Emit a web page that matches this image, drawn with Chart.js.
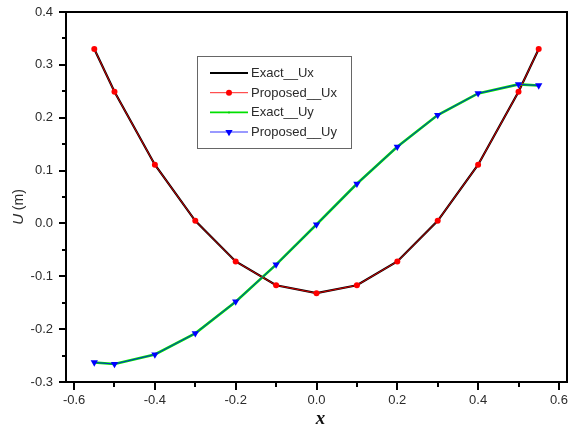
<!DOCTYPE html>
<html>
<head>
<meta charset="utf-8">
<script src="https://cdn.jsdelivr.net/npm/chart.js@4/dist/chart.umd.min.js"></script>
<style>
  html, body { margin: 0; padding: 0; background: #fff; }
  #wrap { width: 581px; height: 432px; position: relative; }
</style>
</head>
<body>
<div id="wrap"><canvas id="c" width="581" height="432"></canvas></div>
<script>
// ---- data ----
const xValues     = [-0.55, -0.5, -0.4, -0.3, -0.2, -0.1, 0.0, 0.1, 0.2, 0.3, 0.4, 0.5, 0.55];
const uxExact     = [0.330, 0.249, 0.111, 0.005, -0.072, -0.117, -0.132, -0.117, -0.072, 0.005, 0.111, 0.249, 0.330];
const uxProposed  = [0.330, 0.249, 0.111, 0.005, -0.072, -0.117, -0.132, -0.117, -0.072, 0.005, 0.111, 0.249, 0.330];
const uyExact     = [-0.263, -0.266, -0.248, -0.208, -0.148, -0.078, -0.002, 0.075, 0.145, 0.205, 0.246, 0.263, 0.261];
const uyProposed  = [-0.263, -0.266, -0.248, -0.208, -0.148, -0.078, -0.002, 0.075, 0.145, 0.205, 0.246, 0.263, 0.261];
const seriesNames = ['Exact__Ux', 'Proposed__Ux', 'Exact__Uy', 'Proposed__Uy'];
const xTickValues = [-0.6, -0.5, -0.4, -0.3, -0.2, -0.1, 0.0, 0.1, 0.2, 0.3, 0.4, 0.5, 0.6];
const yTickValues = [-0.3, -0.25, -0.2, -0.15, -0.1, -0.05, 0.0, 0.05, 0.1, 0.15, 0.2, 0.25, 0.3, 0.35, 0.4];
const xAxisTitle = 'x';
const yAxisTitleVar = 'U';
const yAxisTitleUnit = ' (m)';

const pts = (ys) => xValues.map((x, i) => ({ x: x, y: ys[i] }));
const TXT = '#2b2b2b';
const FONT = '"Liberation Sans", Arial, sans-serif';

const datasets = [
  { label: seriesNames[0], data: pts(uxExact), borderColor: '#000000', backgroundColor: '#000000',
    borderWidth: 2.2, pointRadius: 0, order: 3 },
  { label: seriesNames[1], data: pts(uxProposed), borderColor: 'rgba(255,0,0,0.85)', backgroundColor: '#ff0000',
    borderWidth: 1, pointRadius: 3, pointStyle: 'circle', pointBorderWidth: 0, order: 1 },
  { label: seriesNames[2], data: pts(uyExact), borderColor: '#00e000', backgroundColor: '#00cc00',
    borderWidth: 2.6, pointRadius: 1, pointBorderWidth: 0, order: 2 },
  { label: seriesNames[3], data: pts(uyProposed), borderColor: 'rgba(0,0,255,0.8)', backgroundColor: '#0000ff',
    borderWidth: 1, pointRadius: 4.2, pointStyle: 'triangle', rotation: 180, pointBorderWidth: 0, order: 0 }
];

const overlay = {
  id: 'overlay',
  afterDraw(chart) {
    const ctx = chart.ctx, a = chart.chartArea, xs = chart.scales.x, ys = chart.scales.y;
    ctx.save();
    // frame
    ctx.strokeStyle = '#000';
    ctx.lineWidth = 2;
    ctx.strokeRect(a.left, a.top, a.right - a.left, a.bottom - a.top);
    // x tick marks
    xTickValues.forEach((v, i) => {
      const px = Math.round(xs.getPixelForValue(v));
      const major = i % 2 === 0;
      ctx.beginPath();
      ctx.moveTo(px, a.bottom);
      ctx.lineTo(px, a.bottom + (major ? 8 : 5));
      ctx.stroke();
    });
    // y tick marks
    yTickValues.forEach((v, i) => {
      const py = Math.round(ys.getPixelForValue(v));
      const major = i % 2 === 0;
      ctx.beginPath();
      ctx.moveTo(a.left, py);
      ctx.lineTo(a.left - (major ? 7 : 4), py);
      ctx.stroke();
    });
    // axis titles
    ctx.fillStyle = '#111';
    ctx.textAlign = 'center';
    ctx.textBaseline = 'middle';
    ctx.font = 'bold italic 19px "Liberation Serif", "Times New Roman", serif';
    ctx.fillText(xAxisTitle, (a.left + a.right) / 2 + 4, 419);

    ctx.save();
    ctx.translate(19, 207);
    ctx.rotate(-Math.PI / 2);
    ctx.font = 'italic 15px ' + FONT;
    const wU = ctx.measureText(yAxisTitleVar).width;
    ctx.font = '14px ' + FONT;
    const wR = ctx.measureText(yAxisTitleUnit).width;
    const x0 = -(wU + wR) / 2;
    ctx.textAlign = 'left';
    ctx.fillStyle = TXT;
    ctx.font = 'italic 15px ' + FONT;
    ctx.fillText(yAxisTitleVar, x0, 0);
    ctx.font = '14px ' + FONT;
    ctx.fillText(yAxisTitleUnit, x0 + wU, 0);
    ctx.restore();

    // legend
    const L = { x: 197.5, y: 56.5, w: 154, h: 92 };
    ctx.fillStyle = '#fff';
    ctx.fillRect(L.x, L.y, L.w, L.h);
    ctx.strokeStyle = '#666';
    ctx.lineWidth = 1;
    ctx.strokeRect(L.x, L.y, L.w, L.h);
    const rowY = [73, 92.7, 112.4, 132];
    const legendWidths = [2, 1, 1.6, 1];
    chart.data.datasets.forEach((ds, i) => {
      const y = rowY[i];
      ctx.strokeStyle = ds.borderColor;
      ctx.lineWidth = legendWidths[i];
      ctx.beginPath();
      ctx.moveTo(210, y);
      ctx.lineTo(248, y);
      ctx.stroke();
      if (ds.pointRadius > 0) {
        ctx.fillStyle = ds.backgroundColor;
        ctx.strokeStyle = ds.backgroundColor;
        Chart.helpers.drawPoint(ctx, {
          pointStyle: ds.pointStyle || 'circle', radius: ds.pointRadius,
          rotation: ds.rotation || 0, borderWidth: 0
        }, 229, y);
      }
      ctx.fillStyle = TXT;
      ctx.font = '13px ' + FONT;
      ctx.textAlign = 'left';
      ctx.textBaseline = 'middle';
      ctx.fillText(ds.label, 251, y + 0.5);
    });
    ctx.restore();
  }
};

new Chart(document.getElementById('c'), {
  type: 'line',
  data: { datasets: datasets },
  options: {
    responsive: false,
    animation: false,
    layout: { padding: { top: 12, right: 14, left: 0, bottom: 0 } },
    plugins: { legend: { display: false }, tooltip: { enabled: false } },
    scales: {
      x: {
        type: 'linear', min: -0.62, max: 0.62,
        afterBuildTicks: (s) => { s.ticks = xTickValues.map(v => ({ value: v })); },
        afterFit: (s) => { s.height = 50; s.paddingLeft = 0; s.paddingRight = 0; },
        grid: { display: false, drawTicks: false },
        border: { display: false },
        ticks: {
          autoSkip: false, maxRotation: 0, padding: 11, color: TXT,
          font: { family: FONT, size: 13 },
          callback: (v, i) => (i % 2 === 0 ? Number(v).toFixed(1) : '')
        }
      },
      y: {
        type: 'linear', min: -0.3, max: 0.4,
        afterBuildTicks: (s) => { s.ticks = yTickValues.map(v => ({ value: v })); },
        afterFit: (s) => { s.width = 66; s.paddingTop = 0; s.paddingBottom = 0; },
        grid: { display: false, drawTicks: false },
        border: { display: false },
        ticks: {
          autoSkip: false, padding: 13, color: TXT,
          font: { family: FONT, size: 13 },
          callback: (v, i) => (i % 2 === 0 ? Number(v).toFixed(1) : '')
        }
      }
    }
  },
  plugins: [overlay]
});
</script>
</body>
</html>
